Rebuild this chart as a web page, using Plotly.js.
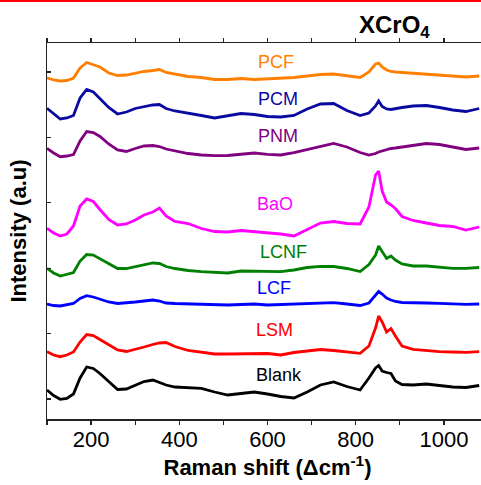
<!DOCTYPE html>
<html>
<head>
<meta charset="utf-8">
<script src="https://cdn.plot.ly/plotly-3.0.1.min.js"></script>
<style>
  html, body { margin: 0; padding: 0; overflow: hidden; background: #fff; }
  #chart { width: 490px; height: 485px; }
  #topline { position: absolute; left: 0; top: 0; width: 481px; height: 2px; background: #ff0000; z-index: 10; }
</style>
</head>
<body>
<div id="topline"></div>
<div id="chart"></div>
<script>
// Raman shift (cm^-1)
const ramanShift = [100,115,130,145,160,175,190,205,220,240,260,280,300,320,340,355,370,390,420,450,
  480,510,540,570,600,630,660,690,720,750,780,810,830,845,852,860,870,880,890,905,930,960,990,1020,1050,1080];

// Intensities (a.u., offset/stacked as in the figure)
const PCF = [341.3,339,338,338.5,341,351,356.5,354.5,352,346, 343.5,344,346,347.5,348.5,349.5,346.5,345,342.5,341.5,
  339.5,339.5,340.5,339.5,340,340.5,341.5,343,344.5,345, 343.5,341.5,347,355,356,352,349,347.5,347,346.5,
  345.5,345,343.5,343,342,343];
const PCM = [310.7,305,300,301,303.5,321,329.5,327,320,311.5, 305,307,310.5,312.5,314,314.5,310.5,308,306,303.5,
  301,303.5,305.5,304.5,302.5,302,303.5,310,315,315.5, 308.5,303.5,306,313,318,312.5,310,309.5,310,311.5,
  313,313.5,311.5,309,307.5,310.5];
const PNM = [270.7,266,262.3,263,264.5,278,287.5,286.5,282.5,275, 269,267.5,270.5,273,273.5,272.5,270,268,265.5,264,
  263.3,263.5,264.7,266,264.7,264,266.3,269.5,273,275.5, 272,266.5,264,265.5,267,268,269.5,270.5,271,272,
  274,275.5,274.5,272,269.5,271];
const BaO = [190.7,186,183,185,193,213,220,217.5,209.5,199.5, 194,195,199,204,207,211,203,197.5,195.5,190.5,
  187.5,187,188.5,187.5,186.3,185,183,189.5,196,197.5, 195.5,195,212,244,248,228,217,214,210.5,202.5,
  198.5,196,193.5,192.5,189,192];
const LCNF = [150.7,146,143,144.5,146.5,158,164.5,164,160.5,155.5, 150.5,150.5,152.5,154.5,156,155.5,152.5,150.5,148.5,147.3,
  146.5,146,148,148,148,147.3,149,151.5,152.7,152.5, 150.5,147.5,154.5,164,173,167,160.5,163,159,155,
  153,153,152,150.7,150.7,151.5];
const LCF = [115,113.5,113,114,115.5,120.5,123.3,122,120,117, 115.5,116,117,118,119,118,116,115.5,115,114.5,
  114,114,114.5,115,114,114.5,115,115.5,116,116.3, 115,113.5,116,124,127.5,125,121,119,117.5,116.5,
  116,116,115.7,115,114.7,115];
const LSM = [67.3,64,62.3,64,67,77,84.5,83.5,79.5,74, 69,67.5,69.5,72,74.5,76,76.5,72.5,68.5,66.5,
  65,65,65,65,65.5,64,66.5,68,69.5,68.5, 67,65.7,73,91,103,97,87,90.5,83,73,
  69.7,68.5,67.3,67,66.7,67.3];
const Blank = [29,23.5,19.7,20.5,25,41,52,50.5,45.5,37, 29.5,30,34,37.5,39,36.5,34,32,31.5,30.7,
  27,24,25.5,27,25,22.5,21,27,34,37, 32.5,29,41,51,53.5,48,46.5,45.5,38,34.5,
  34,35,33.5,32,31.5,33.5];

const seriesNames = ['PCF','PCM','PNM','BaO','LCNF','LCF','LSM','Blank'];
const seriesData = [PCF, PCM, PNM, BaO, LCNF, LCF, LSM, Blank];
const seriesColors = ['#ff8000','#0a0aa0','#800080','#ff00ff','#008000','#0000ff','#ff0000','#000000'];
// label anchor positions (x in cm^-1, y in a.u.)
const labelX = [619, 624, 623, 617, 637, 615, 615, 626];
const labelY = [357, 320, 283, 215, 167, 131, 89, 44];

const FONT = 'Arial, "Liberation Sans", sans-serif';

const traces = seriesNames.map((n, i) => ({
  x: ramanShift, y: seriesData[i], name: n, type: 'scatter', mode: 'lines',
  line: {color: seriesColors[i], width: 2.8}
}));

const annotations = seriesNames.map((n, i) => ({
  x: labelX[i], y: labelY[i], xref: 'x', yref: 'y', text: n, showarrow: false,
  font: {family: FONT, size: 18, color: seriesColors[i]}, xanchor: 'center', yanchor: 'middle'
}));
annotations.push({
  x: 0.703, y: 1.045, xref: 'paper', yref: 'paper', xanchor: 'left', yanchor: 'middle',
  text: '<b>XCrO<sub>4</sub></b>', showarrow: false,
  font: {family: FONT, size: 24, color: '#000'}
});

const layout = {
  width: 490, height: 485,
  margin: {l: 47, r: 2, t: 43, b: 66},
  paper_bgcolor: '#fff', plot_bgcolor: '#fff',
  showlegend: false,
  font: {family: FONT, color: '#000'},
  xaxis: {
    range: [100, 1100], tickmode: 'linear', tick0: 200, dtick: 200,
    ticks: 'outside', ticklen: 4, tickwidth: 1.3, tickcolor: '#222',
    minor: {dtick: 100, tick0: 100, ticks: 'outside', ticklen: 4, tickwidth: 1.3, tickcolor: '#222', showgrid: false},
    ticklabelstandoff: -4,
    showline: true, linecolor: '#222', linewidth: 1.5, mirror: 'ticks',
    showgrid: false, zeroline: false,
    tickfont: {family: FONT, size: 22, color: '#000'},
    title: {text: '<b>Raman shift (\u0394cm<sup>-1</sup>)</b>', font: {family: FONT, size: 22, color: '#000'}, standoff: 0}
  },
  yaxis: {
    range: [0, 376], tickmode: 'linear', tick0: 20, dtick: 65.4,
    ticks: 'inside', ticklen: 4, tickwidth: 1.3, tickcolor: '#222',
    showticklabels: false,
    showline: true, linecolor: '#222', linewidth: 1.5, mirror: 'ticks',
    showgrid: false, zeroline: false,
    title: {text: '<b>Intensity (a.u)</b>', font: {family: FONT, size: 22, color: '#000'}, standoff: 13}
  },
  annotations: annotations
};

Plotly.newPlot('chart', traces, layout, {staticPlot: true, displayModeBar: false});
</script>
</body>
</html>
